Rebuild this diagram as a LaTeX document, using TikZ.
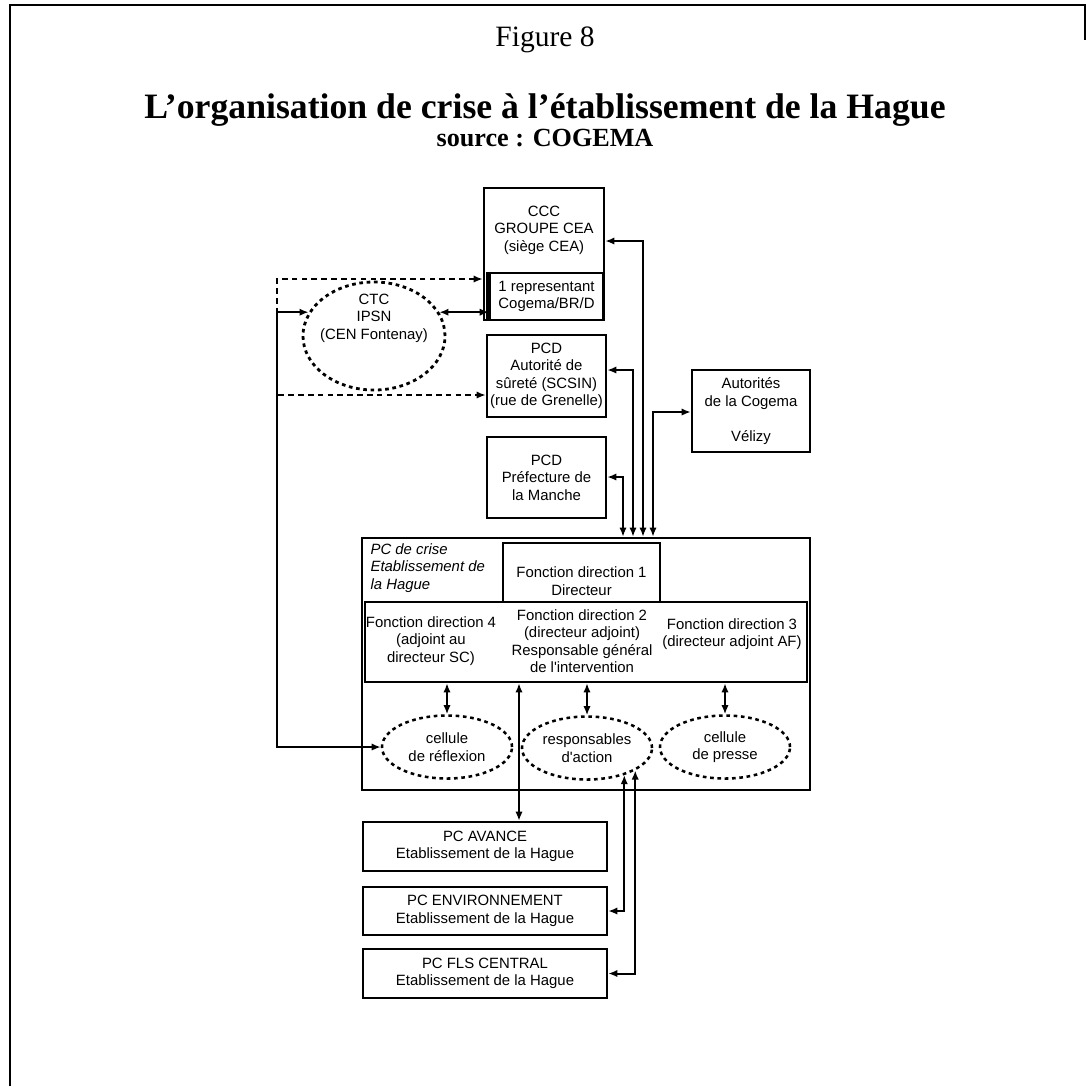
\documentclass[tikz,border=0pt]{standalone}
\usepackage{fontspec}
\setmainfont{Liberation Serif}
\newfontfamily\boxfont{Liberation Sans}
\usetikzlibrary{arrows.meta,shapes.geometric}

\tikzset{
  every node/.style={font=\boxfont\fontsize{5.3}{6.2}\selectfont, align=center},
  orgbox/.style={draw, line width=0.9pt, inner sep=0pt},
  cellule/.style={ellipse, draw, line width=0.9pt, dash pattern=on 1.3pt off 1.3pt, inner sep=0pt,
    minimum width=1.625cm, minimum height=0.7875cm},
  link/.style={line width=0.7pt, {Latex[length=3.2pt,width=2.6pt]}-{Latex[length=3.2pt,width=2.6pt]}},
  dlink/.style={link, dash pattern=on 2pt off 1.5pt},
}

\begin{document}
\begin{tikzpicture}[x=0.0125cm, y=-0.0125cm]
    \useasboundingbox (0,0) rectangle (1087,1086);
    % Frame
    \draw[line width=1pt] (10,1086) -- (10,5) -- (1085,5) -- (1085,40);

    % Titles
    \node[font=\rmfamily\fontsize{10.5}{12}\selectfont] (fig) at (545,40) {Figure 8};
    \node[font=\rmfamily\bfseries\fontsize{12.7}{15}\selectfont] (titre) at (545,110) {L'organisation de crise à l'établissement de la Hague};
    \node[font=\rmfamily\bfseries\fontsize{9.3}{11}\selectfont] (source) at (545,138) {source : COGEMA};

    % Outside command posts
    \node[orgbox, minimum width=1.5cm, minimum height=1.65cm] (ccc) at (544,254) {};
    \node (cccl) at (544,230) {CCC\\GROUPE CEA\\(siège CEA)};
    \node[orgbox, minimum width=1.4125cm, minimum height=0.5875cm] (rep) at (546.5,296.5) {1 representant\\Cogema/BR/D};
    \draw[line width=1.6pt] (rep.north west) -- (rep.south west);
    \node[ellipse, draw, line width=1pt, dash pattern=on 1.3pt off 1.3pt, inner sep=0pt,
      minimum width=1.775cm, minimum height=1.35cm] (ctc) at (374,336) {};
    \node (ctcl) at (374,318) {CTC\\IPSN\\(CEN Fontenay)};
    \node[orgbox, minimum width=1.4875cm, minimum height=1.025cm] (pcdaut) at (546.5,376) {PCD\\Autorité de\\sûreté (SCSIN)\\(rue de Grenelle)};
    \node[orgbox, minimum width=1.475cm, minimum height=1.025cm] (autcog) at (751,411) {Autorités\\de la Cogema\\[6.2pt]Vélizy};
    \node[orgbox, minimum width=1.4875cm, minimum height=1.0125cm] (pcdpref) at (546.5,477.5) {PCD\\Préfecture de\\la Manche};

    % PC de crise
    \node[orgbox, minimum width=5.6cm, minimum height=3.15cm] (crise) at (586,664) {};
    \node[anchor=north west, align=left, inner sep=0pt, font=\boxfont\itshape\fontsize{5.3}{6.2}\selectfont] (crisel) at (370,543) {PC de crise\\Etablissement de\\la Hague};
    \node[orgbox, minimum width=1.9625cm, minimum height=0.7375cm] (fd1) at (581.5,572.5) {};
    \node (fd1l) at (581.5,581) {Fonction direction 1\\Directeur};
    \node[orgbox, minimum width=5.525cm, minimum height=1cm] (fdbox) at (586,642) {};
    \node (fd4) at (431,641) {Fonction direction 4\\(adjoint au\\directeur SC)};
    \node (fd2) at (582,641) {Fonction direction 2\\(directeur adjoint)\\Responsable général\\de l'intervention};
    \node (fd3) at (732,634) {Fonction direction 3\\(directeur adjoint AF)};
    \node[cellule] (reflexion) at (447,747) {cellule\\de réflexion};
    \node[cellule] (action) at (587,748) {responsables\\d'action};
    \node[cellule] (presse) at (725,747) {cellule\\de presse};

    % Field command posts
    \node[orgbox, minimum width=3.05cm, minimum height=0.6125cm] (avance) at (485,846.5) {PC AVANCE\\Etablissement de la Hague};
    \node[orgbox, minimum width=3.05cm, minimum height=0.6cm] (envir) at (485,911) {PC ENVIRONNEMENT\\Etablissement de la Hague};
    \node[orgbox, minimum width=3.05cm, minimum height=0.6125cm] (fls) at (485,973.5) {PC FLS CENTRAL\\Etablissement de la Hague};

    % Links to the PC de crise
    \draw[link] (ccc.east |- 0,241) -| (crise.north -| 643,0);
    \draw[link] (pcdaut.east |- 0,370) -| (crise.north -| 633,0);
    \draw[link] (pcdpref.east |- 0,477) -| (crise.north -| 623,0);
    \draw[link] (autcog.west |- 0,412) -| (crise.north -| 653,0);
    \draw[link] (ctc.20) -- (rep.west |- ctc.20);
    \draw[link] (ctc.160) -- (ctc.160 -| 277,0) |- (reflexion.west);
    \draw[dlink] (ccc.west |- 0,279) -| (277,337) |- (pcdaut.west |- 0,395);

    % Inside the PC de crise
    \draw[link] (reflexion.north |- fdbox.south) -- (reflexion.north);
    \draw[link] (action.north |- fdbox.south) -- (action.north);
    \draw[link] (presse.north |- fdbox.south) -- (presse.north);
    \draw[link] (fdbox.south -| 519,0) -- (avance.north -| 519,0);
    \draw[link] (envir.east) -| (action.-36);
    \draw[link] (fls.east) -| (action.-25);
\end{tikzpicture}
\end{document}
